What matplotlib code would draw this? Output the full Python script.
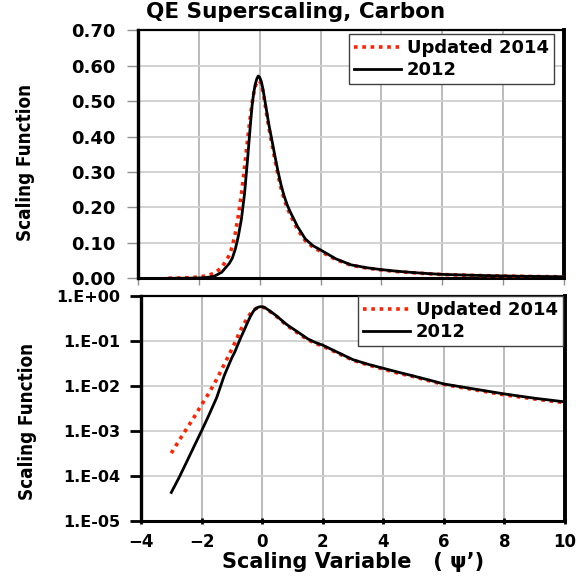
import math
import matplotlib.pyplot as plt
from matplotlib.ticker import FixedLocator, FuncFormatter, NullLocator

# scaling variable psi'
psi = [-3.0, -2.75, -2.5, -2.25, -2.0, -1.75, -1.5, -1.25, -1.0, -0.9, -0.8, -0.7,
       -0.6, -0.5, -0.4, -0.3, -0.25, -0.2, -0.15, -0.1, -0.05, 0.0, 0.05, 0.1,
       0.15, 0.2, 0.3, 0.4, 0.5, 0.6, 0.7, 0.8, 0.9, 1.0, 1.25, 1.5, 1.75, 2.0,
       2.5, 3.0, 3.5, 4.0, 4.5, 5.0, 5.5, 6.0, 7.0, 8.0, 9.0, 10.0]

f_2014 = [3.2e-4, 6.0e-4, 1.1e-3, 2.0e-3, 3.8e-3, 7.0e-3, 0.014, 0.030, 0.065,
          0.090, 0.128, 0.178, 0.238, 0.312, 0.390, 0.462, 0.495, 0.520, 0.540,
          0.553, 0.559, 0.557, 0.548, 0.530, 0.505, 0.478, 0.425, 0.380, 0.335,
          0.292, 0.255, 0.224, 0.200, 0.180, 0.137, 0.106, 0.088, 0.076, 0.053,
          0.037, 0.029, 0.0235, 0.019, 0.016, 0.013, 0.0107, 0.0082, 0.0063,
          0.0051, 0.0042]

f_2012 = [4.3e-5, 9.0e-5, 2.0e-4, 4.5e-4, 1.0e-3, 2.3e-3, 5.5e-3, 0.017, 0.042,
          0.057, 0.083, 0.120, 0.168, 0.238, 0.335, 0.440, 0.488, 0.522, 0.546,
          0.562, 0.571, 0.567, 0.556, 0.537, 0.512, 0.486, 0.434, 0.390, 0.345,
          0.302, 0.264, 0.233, 0.208, 0.188, 0.145, 0.111, 0.092, 0.080, 0.055,
          0.038, 0.030, 0.0245, 0.020, 0.0165, 0.0135, 0.011, 0.0085, 0.0066,
          0.0053, 0.0044]

x_ticks = [-4, -2, 0, 2, 4, 6, 8, 10]
lin_ticks = [0.0, 0.1, 0.2, 0.3, 0.4, 0.5, 0.6, 0.7]
log_ticks = [1e-5, 1e-4, 1e-3, 1e-2, 1e-1, 1e0]

W, H = 579, 581
red = '#ff2200'

fig = plt.figure(figsize=(W / 100, H / 100), dpi=100)
ax1 = fig.add_axes([138 / W, 1 - 278.3 / H, 426 / W, 248 / H])
ax2 = fig.add_axes([141 / W, 1 - 521 / H, 424 / W, 225.3 / H])

# legend boxes (top-right corners in pixels)
leg_corner = {ax1: (554, 34), ax2: (563, 296)}

for ax in (ax1, ax2):
    ax.plot(psi, f_2014, color=red, lw=2.6, linestyle=(0, (1, 1.3)), label='Updated 2014', zorder=3)
    ax.plot(psi, f_2012, color='black', lw=2.0, label='2012', zorder=4)
    ax.set_xlim(-4, 10)
    ax.set_xticks(x_ticks)
    ax.grid(True, axis='x', color='#a8a8a8', lw=1.1)
    ax.grid(True, axis='y', color='#cfcfcf', lw=1.3)
    ax.set_axisbelow(True)
    for s in ax.spines.values():
        s.set_color('black')
    ax.spines['left'].set_linewidth(2.4)
    ax.spines['bottom'].set_linewidth(2.2)
    ax.spines['right'].set_linewidth(2.8)
    ax.spines['top'].set_linewidth(1.6)
    cx, cy = leg_corner[ax]
    leg = ax.legend(loc='upper right', bbox_to_anchor=(cx / W, 1 - cy / H),
                    bbox_transform=fig.transFigure, borderaxespad=0,
                    fancybox=False, framealpha=1, edgecolor='#404040',
                    prop={'weight': 'bold', 'size': 13}, handlelength=2.6,
                    labelspacing=0.2, handletextpad=0.3, borderpad=0.3)
    leg.get_frame().set_linewidth(1.0)

ylabel_font = dict(family='DejaVu Sans', fontstretch='condensed', fontweight='bold', fontsize=13.5)

# linear panel
ax1.set_ylim(0, 0.7)
ax1.yaxis.set_major_locator(FixedLocator(lin_ticks))
ax1.yaxis.set_major_formatter(FuncFormatter(lambda v, p: f'{v:.2f}'))
ax1.tick_params(axis='y', direction='out', length=8, width=1, color='#909090', labelsize=13, pad=8)
ax1.tick_params(axis='x', direction='out', length=5, width=1, color='#909090', labelbottom=False)
for t in ax1.get_yticklabels():
    t.set_fontweight('bold')
ax1.set_ylabel('Scaling Function', **ylabel_font)
ax1.yaxis.set_label_coords((35 - 138) / 426, 1 - (162 - 30.3) / 248)

# log panel
ax2.set_yscale('log')
ax2.set_ylim(1e-5, 1)
ax2.yaxis.set_major_locator(FixedLocator(log_ticks))
ax2.yaxis.set_minor_locator(NullLocator())
ax2.yaxis.set_major_formatter(FuncFormatter(
    lambda v, p: '1.E+00' if v >= 1 else f'1.E-{round(-math.log10(v)):02d}'))
ax2.tick_params(axis='y', direction='out', length=8, width=2, color='black', labelsize=11.5, pad=7)
ax2.tick_params(axis='x', direction='inout', length=5, width=2, color='black', labelsize=12, pad=6)
for t in ax2.get_yticklabels() + ax2.get_xticklabels():
    t.set_fontweight('bold')
ax2.set_ylabel('Scaling Function', **ylabel_font)
ax2.yaxis.set_label_coords((37 - 141) / 424, 1 - (421 - 295.7) / 225.3)
ax2.set_xlabel('Scaling Variable   ( \u03c8\u2019)', fontsize=15, fontweight='bold', labelpad=1)

fig.text(296 / W, 1 - 12 / H, 'QE Superscaling, Carbon', ha='center', va='center',
         fontsize=15.5, fontweight='bold')

fig.savefig('out.png', dpi=100)
